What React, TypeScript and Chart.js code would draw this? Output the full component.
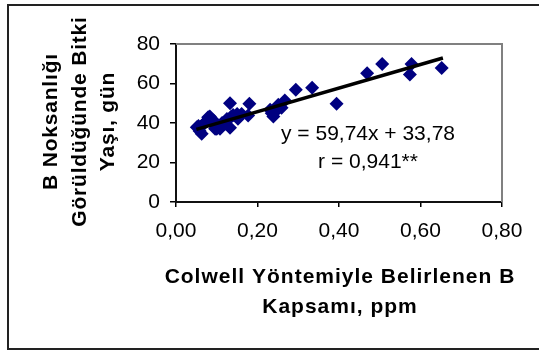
import React, { useEffect, useRef } from "react";
import { Chart, registerables } from "chart.js";

Chart.register(...registerables);

// Colwell B content (ppm)
const xValues = [0.051, 0.055, 0.058, 0.063, 0.066, 0.07, 0.075, 0.079, 0.083, 0.088, 0.092, 0.096, 0.1, 0.108, 0.113, 0.12, 0.125, 0.1325, 0.1325, 0.135, 0.14, 0.15, 0.152, 0.161, 0.177, 0.18, 0.231, 0.235, 0.239, 0.245, 0.251, 0.259, 0.267, 0.294, 0.334, 0.394, 0.469, 0.506, 0.574, 0.578, 0.652];
// Plant age at B deficiency (days)
const yValues = [37.9, 38.5, 36, 34.5, 39, 40, 41, 42.9, 43.3, 40, 41.3, 37.1, 37.1, 37.1, 40, 39.6, 42, 50, 37.6, 43, 44, 44.6, 42.1, 44.6, 43.8, 49.7, 46.7, 45, 43.3, 46, 49.3, 47.7, 51.4, 56.8, 57.8, 49.7, 65.2, 69.9, 64.5, 69.9, 67.9];

const TREND_SLOPE = 59.74;
const TREND_INTERCEPT = 33.78;
const TREND_X = [0.05, 0.655];

const equationLines = ["y = 59,74x + 33,78", "r = 0,941**"];
const yTitleLines = ["B Noksanlığı", "Görüldüğünde Bitki", "Yaşı, gün"];
const xTitleLines = ["Colwell Yöntemiyle Belirlenen B", "Kapsamı, ppm"];

const FONT = "'Liberation Sans', Arial, Helvetica, sans-serif";

const overlayPlugin = {
  id: "overlay",
  afterDraw(chart: any) {
    const { ctx, chartArea: a } = chart;
    ctx.save();
    // gray plot frame (top/right)
    ctx.strokeStyle = "#808080";
    ctx.lineWidth = 2;
    ctx.beginPath();
    ctx.moveTo(a.left, a.top);
    ctx.lineTo(a.right, a.top);
    ctx.lineTo(a.right, a.bottom);
    ctx.stroke();

    // outer chart border
    ctx.strokeStyle = "#222";
    ctx.lineWidth = 2;
    ctx.beginPath();
    ctx.moveTo(545, 5);
    ctx.lineTo(8, 5);
    ctx.lineTo(8, 349);
    ctx.lineTo(545, 349);
    ctx.stroke();

    ctx.fillStyle = "#000";
    // equation
    ctx.font = `21px ${FONT}`;
    ctx.textAlign = "center";
    ctx.textBaseline = "alphabetic";
    ctx.fillText(equationLines[0], 368, 140);
    ctx.fillText(equationLines[1], 368, 168);

    // x title
    ctx.font = `bold 21px ${FONT}`;
    (ctx as any).letterSpacing = "1px";
    const cx = (a.left + a.right) / 2 + 1;
    ctx.fillText(xTitleLines[0], cx, 283);
    ctx.fillText(xTitleLines[1], cx, 313);

    // y title
    (ctx as any).letterSpacing = "0.8px";
    const cy = (a.top + a.bottom) / 2 - 1.5;
    ctx.textBaseline = "middle";
    yTitleLines.forEach((line, i) => {
      ctx.save();
      ctx.translate(51.5 + 28.5 * i, cy);
      ctx.rotate(-Math.PI / 2);
      ctx.fillText(line, 0, 0);
      ctx.restore();
    });
    (ctx as any).letterSpacing = "0px";
    ctx.restore();
  },
};

export default function App() {
  const canvasRef = useRef<HTMLCanvasElement | null>(null);

  useEffect(() => {
    const canvas = canvasRef.current;
    if (!canvas) return;
    const points = xValues.map((x, i) => ({ x, y: yValues[i] }));
    const trend = TREND_X.map((x) => ({ x, y: TREND_SLOPE * x + TREND_INTERCEPT }));

    const chart = new Chart(canvas, {
      type: "scatter",
      data: {
        datasets: [
          {
            label: "data",
            data: points,
            pointStyle: "rectRot",
            pointRadius: 7,
            backgroundColor: "#000080",
            borderColor: "#000080",
            borderWidth: 0,
            order: 2,
          },
          {
            label: "trend",
            data: trend,
            showLine: true,
            pointRadius: 0,
            borderColor: "#000",
            borderWidth: 3.5,
            order: 1,
          } as any,
        ],
      },
      options: {
        animation: false,
        responsive: false,
        maintainAspectRatio: false,
        layout: { padding: { left: 0, top: 44, right: 37, bottom: 0 } },
        plugins: {
          legend: { display: false },
          tooltip: { enabled: false },
        },
        scales: {
          x: {
            type: "linear",
            min: 0,
            max: 0.8,
            afterFit: (s: any) => {
              s.height = 149;
            },
            ticks: {
              stepSize: 0.2,
              color: "#000",
              padding: 12,
              font: { size: 21, family: FONT },
              callback: (v: any) => Number(v).toFixed(2).replace(".", ","),
            },
            grid: {
              display: true,
              drawOnChartArea: false,
              drawTicks: true,
              tickLength: 5,
              color: "#000",
              lineWidth: 1.5,
            },
            border: { display: true, color: "#111", width: 2 },
          },
          y: {
            type: "linear",
            min: 0,
            max: 80,
            afterFit: (s: any) => {
              s.width = 176;
            },
            ticks: {
              stepSize: 20,
              color: "#000",
              padding: 10,
              font: { size: 21, family: FONT },
            },
            grid: {
              display: true,
              drawOnChartArea: false,
              drawTicks: true,
              tickLength: 6,
              color: "#000",
              lineWidth: 1.5,
            },
            border: { display: true, color: "#111", width: 2 },
          },
        },
      },
      plugins: [overlayPlugin],
    });
    return () => chart.destroy();
  }, []);

  return (
    <div style={{ position: "fixed", left: 0, top: 0, width: 539, height: 351, background: "#fff" }}>
      <canvas ref={canvasRef} width={539} height={351} style={{ width: 539, height: 351, display: "block" }} />
    </div>
  );
}
